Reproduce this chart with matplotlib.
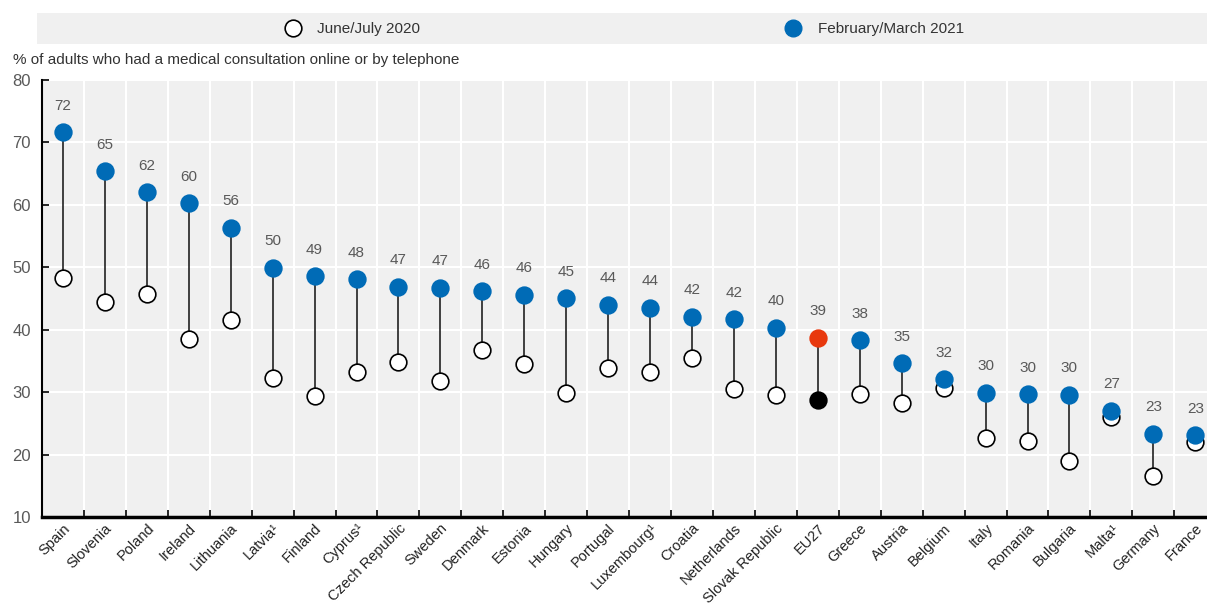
import matplotlib.pyplot as plt
from matplotlib.patches import Rectangle
from matplotlib.lines import Line2D

plt.rcParams["font.family"] = ["Liberation Sans", "DejaVu Sans"]

countries = ["Spain", "Slovenia", "Poland", "Ireland", "Lithuania", "Latvia¹", "Finland",
             "Cyprus¹", "Czech Republic", "Sweden", "Denmark", "Estonia", "Hungary",
             "Portugal", "Luxembourg¹", "Croatia", "Netherlands", "Slovak Republic", "EU27",
             "Greece", "Austria", "Belgium", "Italy", "Romania", "Bulgaria", "Malta¹",
             "Germany", "France"]
v2020 = [48.2, 44.5, 45.7, 38.5, 41.6, 32.3, 29.4, 33.2, 34.8, 31.8, 36.8, 34.5, 29.9,
         33.8, 33.3, 35.4, 30.5, 29.5, 28.7, 29.7, 28.2, 30.6, 22.6, 22.2, 18.9, 26.0,
         16.6, 22.0]
v2021 = [71.6, 65.4, 62.0, 60.3, 56.3, 49.9, 48.6, 48.1, 46.9, 46.7, 46.2, 45.6, 45.0,
         44.0, 43.5, 42.1, 41.7, 40.3, 38.7, 38.3, 34.6, 32.1, 29.9, 29.7, 29.6, 27.0,
         23.3, 23.1]
labels = [72, 65, 62, 60, 56, 50, 49, 48, 47, 47, 46, 46, 45, 44, 44, 42, 42, 40, 39, 38,
          35, 32, 30, 30, 30, 27, 23, 23]

BLUE = "#006bb6"
RED = "#e8380d"
BG = "#f0f0f0"
GREY = "#595959"

fig = plt.figure(figsize=(12.07, 6.05), dpi=100)
ax = fig.add_axes([0.0348, 0.1455, 0.9652, 0.7223])
ax.set_facecolor(BG)

x = list(range(len(countries)))
eu = countries.index("EU27")
ms = 12

for i in x:
    ax.plot([i, i], [v2020[i], v2021[i]], color="#222222", lw=1.2, zorder=2)
    c20 = "black" if i == eu else "white"
    c21 = RED if i == eu else BLUE
    ax.plot(i, v2020[i], "o", ms=ms, mfc=c20, mec="black", mew=1.2, zorder=3)
    ax.plot(i, v2021[i], "o", ms=ms, mfc=c21, mec=c21, mew=1.2, zorder=4)
    ax.annotate(str(labels[i]), (i, v2021[i]), xytext=(0, 14), textcoords="offset points",
                ha="center", va="bottom", color=GREY, fontsize=11)

ax.set_ylim(10, 80)
ax.set_xlim(-0.5, 27.28)
ax.set_yticks(range(10, 81, 10))
ax.set_xticks(x)
ax.set_xticklabels(countries, rotation=45, ha="right", rotation_mode="anchor",
                   fontsize=10.5, color="#222222")
ax.set_xticks([i + 0.5 for i in x[:-1]], minor=True)
ax.tick_params(axis="x", which="major", length=0, pad=3)
ax.tick_params(axis="x", which="minor", length=5, width=1.2, color="black", direction="in")
ax.tick_params(axis="y", length=5, width=1.2, direction="in", labelsize=12,
               labelcolor=GREY, pad=8)
ax.grid(True, axis="y", color="white", lw=1.5)
ax.grid(True, axis="x", which="minor", color="white", lw=1.5)
ax.set_axisbelow(True)
for s in ["top", "right"]:
    ax.spines[s].set_visible(False)
ax.spines["left"].set_linewidth(1.5)
ax.spines["bottom"].set_linewidth(2.5)

fig.patches.append(Rectangle((37 / 1207, 1 - 44 / 605), 1 - 37 / 1207, 31 / 605,
                             transform=fig.transFigure, facecolor=BG, edgecolor="none"))
h1 = Line2D([], [], marker="o", ls="", ms=12, mfc="white", mec="black", mew=1.2)
h2 = Line2D([], [], marker="o", ls="", ms=12, mfc=BLUE, mec=BLUE)
fig.legend([h1, h2], ["June/July 2020", "February/March 2021"], ncol=2, frameon=False,
           loc="center", bbox_to_anchor=(0.5143, 1 - 29 / 605), fontsize=11,
           columnspacing=23.4, handletextpad=0.6, labelcolor="#333333")

fig.text(13 / 1207, 1 - 60 / 605, "% of adults who had a medical consultation online or by telephone",
         fontsize=11, color="#333333", va="center", ha="left")

fig.savefig("out.png", dpi=100)
